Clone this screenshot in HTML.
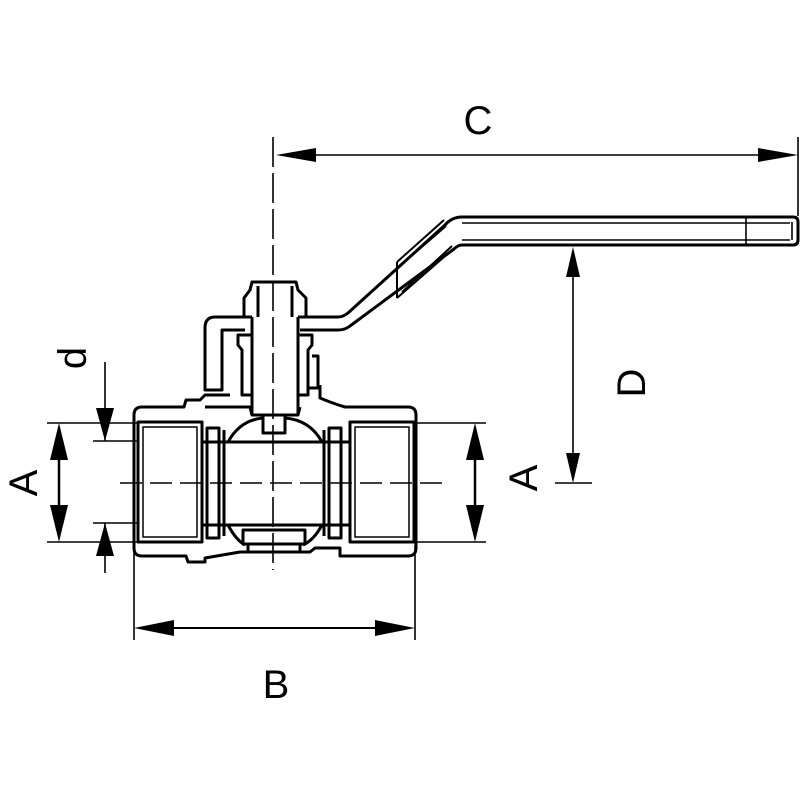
<!DOCTYPE html>
<html><head><meta charset="utf-8"><style>
html,body{margin:0;padding:0;background:#fff;}
svg{display:block;}
text{font-family:"Liberation Sans",sans-serif;font-size:40px;fill:#000;}
</style></head><body>
<svg width="800" height="800" viewBox="0 0 800 800" xmlns="http://www.w3.org/2000/svg">
<g fill="none" stroke="#000" stroke-width="1.6">
  <line x1="273" y1="137" x2="273" y2="570" stroke-dasharray="30,6"/>
  <line x1="120" y1="483" x2="442" y2="483" stroke-dasharray="22,8"/>
  <line x1="798" y1="137" x2="798" y2="216"/>
  <line x1="290" y1="155" x2="785" y2="155"/>
  <line x1="573" y1="262" x2="573" y2="470"/>
  <line x1="555" y1="483" x2="592" y2="483"/>
  <line x1="47" y1="423" x2="137" y2="423"/>
  <line x1="47" y1="542" x2="137" y2="542"/>
  <line x1="93" y1="441" x2="137" y2="441"/>
  <line x1="93" y1="523" x2="137" y2="523"/>
  <line x1="105" y1="362" x2="105" y2="441"/>
  <line x1="105" y1="523" x2="105" y2="573"/>
  <line x1="59" y1="440" x2="59" y2="525" stroke-width="2.5"/>
  <line x1="414" y1="423" x2="486" y2="423"/>
  <line x1="414" y1="542" x2="486" y2="542"/>
  <line x1="475" y1="440" x2="475" y2="525" stroke-width="2.5"/>
  <line x1="134" y1="545" x2="134" y2="640"/>
  <line x1="415" y1="545" x2="415" y2="640"/>
  <line x1="150" y1="628" x2="400" y2="628" stroke-width="2"/>
</g>
<g fill="#000">
  <polygon points="276,155 316,148 316,162"/>
  <polygon points="798,155 758,148 758,162"/>
  <polygon points="573,247 566,277 580,277"/>
  <polygon points="573,483 566,453 580,453"/>
  <polygon points="59,423 50,460 68,460"/>
  <polygon points="59,542 50,505 68,505"/>
  <polygon points="475,423 466,460 484,460"/>
  <polygon points="475,542 466,505 484,505"/>
  <polygon points="105,441 96,408 114,408"/>
  <polygon points="105,523 96,556 114,556"/>
  <polygon points="134,628 174,620 174,636"/>
  <polygon points="415,628 375,620 375,636"/>
</g>
<g fill="none" stroke="#000" stroke-width="3" stroke-linejoin="round">
  <path d="M300,317 L338,317 Q343,317 348,313 L445,225 Q452,217 462,217 L793,217 Q798,217 798,222 L798,240 Q798,245 793,245 L462,245 Q458,245 454,249 L350,326 Q345,330 338,330 L300,330"/>
  <line x1="462" y1="223" x2="790" y2="223" stroke-width="1.4"/>
  <line x1="462" y1="240" x2="790" y2="240" stroke-width="1.4"/>
  <line x1="746" y1="217" x2="746" y2="245" stroke-width="1.6"/>
  <line x1="792" y1="222" x2="792" y2="240" stroke-width="1.6"/>
  <path d="M397,262 L397,298 M397,262 L444,220 M397,298 L452,250 M402,264 L446,226 M402,292 L452,246" stroke-width="2"/>
  <path d="M245,317 L215,317 Q205,317 205,328 L205,390 L222,390 L222,330 L245,330"/>
  <path d="M252,317 L244,317 L244,298 L250,290 L252,282 L296,282 L298,290 L306,298 L306,317 L298,317"/>
  <line x1="258" y1="286" x2="258" y2="317"/>
  <line x1="292" y1="286" x2="292" y2="317"/>
  <path d="M252,317 L252,415 M298,317 L298,415"/>
  <path d="M263,415 L263,433 L285,433 L285,415"/>
  <path d="M252,335 L238,335 L238,345 L242,350 L242,395 L252,395"/>
  <path d="M298,335 L312,335 L312,345 L308,350 L308,395 L298,395"/>
  <path d="M312,356 L318,356 L318,388 L308,388"/>
  <path d="M230,395 L205,395 L200,400 L186,400 L184,407 L142,407 Q134,407 134,415 L134,548 Q134,556 142,556 L186,556 L188,562 L205,562 L205,558 L240,552 L310,552 L315,548 L340,548 L340,556 L408,556 Q416,556 416,548 L416,415 Q416,407 408,407 L345,407 Q338,405 330,402 L320,398 L320,385"/>
  <path d="M205,407 L250,407 L252,415 L298,415 L300,407"/>
  <rect x="138" y="422" width="64" height="120"/>
  <rect x="143" y="427" width="54" height="110" stroke-width="1.5"/>
  <rect x="350" y="422" width="64" height="120"/>
  <rect x="355" y="427" width="54" height="110" stroke-width="1.5"/>
  <rect x="207" y="428" width="12" height="110"/>
  <rect x="329" y="428" width="12" height="110"/>
  <line x1="224" y1="430" x2="224" y2="536"/>
  <line x1="324" y1="430" x2="324" y2="536"/>
  <line x1="202" y1="442" x2="350" y2="442"/>
  <line x1="202" y1="525" x2="350" y2="525"/>
  <path d="M228,442 Q240,420 263,418 M285,418 Q310,420 322,442"/>
  <path d="M228,525 Q236,540 245,545 M303,545 Q314,540 322,525"/>
  <rect x="243" y="530" width="62" height="14"/>
  <path d="M248,544 L248,552 M300,544 L300,552"/>
</g>
<text x="478" y="134" text-anchor="middle">C</text>
<text x="276" y="698" text-anchor="middle">B</text>
<text transform="translate(645,383) rotate(-90)" text-anchor="middle">D</text>
<text transform="translate(37,483) rotate(-90)" text-anchor="middle">A</text>
<text transform="translate(537,478) rotate(-90)" text-anchor="middle">A</text>
<text transform="translate(86,358) rotate(-90)" text-anchor="middle">d</text>
</svg>
</body></html>
